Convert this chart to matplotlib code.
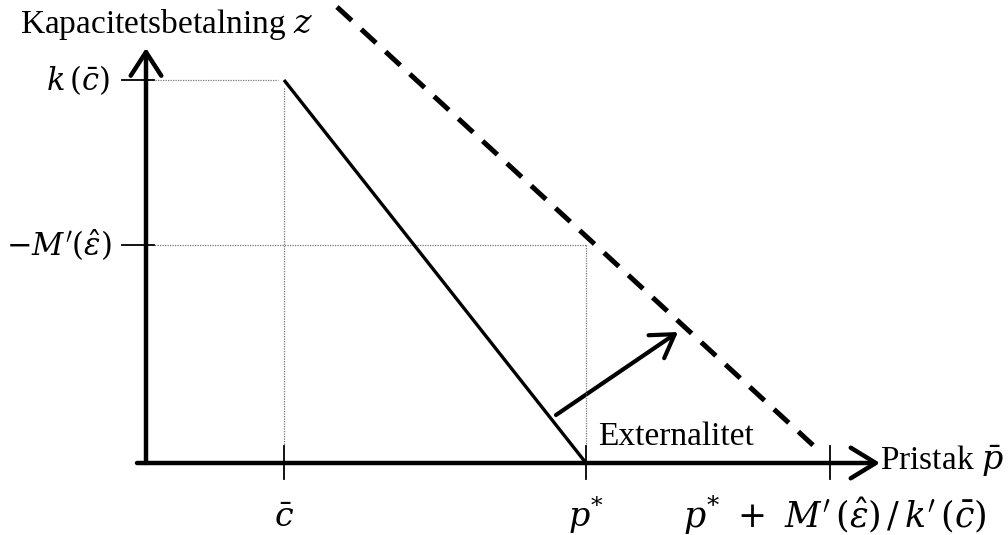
import matplotlib.pyplot as plt
from matplotlib.patches import FancyArrowPatch

plt.rcParams['mathtext.fontset'] = 'dejavuserif'
plt.rcParams['font.family'] = 'Liberation Serif'

# positions on the price axis (origin at the axis crossing)
x_ticks = [138, 440, 684]
x_tick_labels = [r'$\bar{c}$', r'$p^{*}$',
                 r"$p^{*}\ +\ M'\,(\hat{\varepsilon})\,/\,k'\,(\bar{c})$"]

# positions on the capacity payment axis
y_ticks = [383, 218]
y_tick_labels = [r'$k\,(\bar{c})$', r"$-M'(\hat{\varepsilon})$"]

# solid curve: from (c_bar, k(c_bar)) down to (p*, 0)
solid_x = [138, 440]
solid_y = [383, 0]

# dashed curve after the externality shift
dash_x = [191, 669]
dash_y = [456, 16]

# shift arrow
shift_x = [410, 532]
shift_y = [48, 131]

fig = plt.figure(figsize=(10.08, 5.35), dpi=100)
ax = fig.add_axes([0, 0, 1, 1])
ax.set_xlim(-146, 862)
ax.set_ylim(-72, 463)
ax.axis('off')

# axes with open arrow heads
ax.add_patch(FancyArrowPatch((-9, 0), (734, 0), arrowstyle='->,head_length=0.9,head_width=0.55',
                             mutation_scale=20, lw=3.2, color='black', shrinkA=0, shrinkB=0))
ax.add_patch(FancyArrowPatch((0, 0), (0, 415), arrowstyle='->,head_length=0.85,head_width=0.55',
                             mutation_scale=20, lw=3.2, color='black', shrinkA=0, shrinkB=0))

# guide lines
ax.plot([9, solid_x[0] - 6], [y_ticks[0], y_ticks[0]], color='#777777', lw=0.9, ls=(0, (1, 1)))
ax.plot([x_ticks[0], x_ticks[0]], [y_ticks[0] - 8, 18], color='#777777', lw=0.9, ls=(0, (1, 1)))
ax.plot([6, x_ticks[1]], [y_ticks[1], y_ticks[1]], color='#777777', lw=0.9, ls=(0, (1, 1)))
ax.plot([x_ticks[1], x_ticks[1]], [y_ticks[1], 16], color='#777777', lw=0.9, ls=(0, (1, 1)))

# tick marks
for xt in x_ticks:
    ax.plot([xt, xt], [17, -16], color='black', lw=1.3)
for yt in y_ticks:
    ax.plot([-24, 8], [yt, yt], color='black', lw=1.3)

# curves
ax.plot(solid_x, solid_y, color='black', lw=2.4, solid_capstyle='butt')
ax.plot(dash_x, dash_y, color='black', lw=3.6, ls=(0, (4, 2.6)), dash_capstyle='butt')
ax.add_patch(FancyArrowPatch((shift_x[0], shift_y[0]), (shift_x[1], shift_y[1]),
                             arrowstyle='->,head_length=0.8,head_width=0.5',
                             mutation_scale=20, lw=3, color='black', shrinkA=0, shrinkB=0))

# tick labels
fs = 22
ax.text(x_ticks[0], -56, x_tick_labels[0], ha='center', va='center', fontsize=24)
ax.text(x_ticks[1], -52, x_tick_labels[1], ha='center', va='center', fontsize=24)
ax.text(x_ticks[2] + 5, -52, x_tick_labels[2], ha='center', va='center', fontsize=25)
ax.text(-36, y_ticks[0], y_tick_labels[0], ha='right', va='center', fontsize=fs)
ax.text(-34, y_ticks[1], y_tick_labels[1], ha='right', va='center', fontsize=fs)

# axis titles and annotation
ax.text(-126, 438, 'Kapacitetsbetalning $z$', ha='left', va='center', fontsize=24)
ax.text(734, 2, r'Pristak $\bar{p}$', ha='left', va='center', fontsize=24)
ax.text(452, 26, 'Externalitet', ha='left', va='center', fontsize=24)

fig.savefig('out.png', dpi=100)
